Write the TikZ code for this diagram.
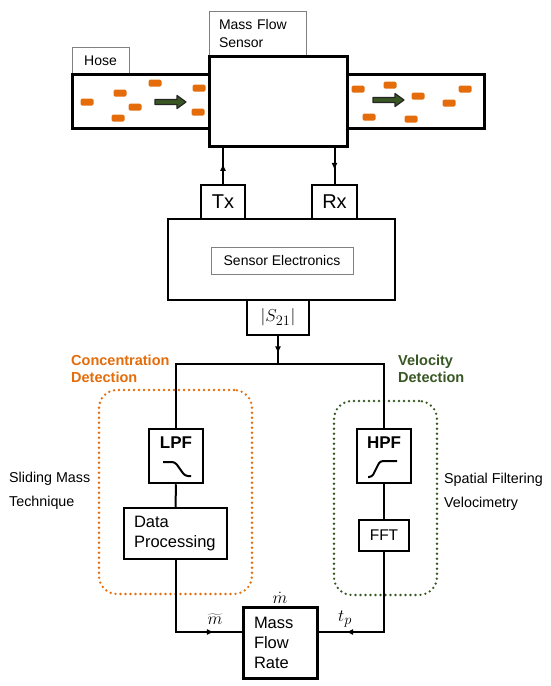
\documentclass[tikz,border=0pt]{standalone}
\usepackage{fontspec}
\setmainfont{Liberation Sans}
\usetikzlibrary{positioning,arrows.meta,decorations.markings}

\definecolor{flowor}{RGB}{228,108,10}
\definecolor{flowgr}{RGB}{56,87,35}
\definecolor{lblgray}{RGB}{128,128,128}

\begin{document}
\begin{tikzpicture}[x=1pt, y=-1pt,
    box/.style={rectangle, draw, line width=2.5pt, fill=white, inner sep=0pt},
    lbl/.style={rectangle, draw=lblgray, line width=1pt, fill=white, inner sep=0pt, font=\fontsize{14}{18}\selectfont},
    pipe/.style={rectangle, draw, line width=3pt, fill=white, minimum width=137pt, minimum height=54pt},
    filt/.style={box, minimum width=54pt, minimum height=54pt},
    filtname/.style={font=\bfseries\fontsize{17}{17}\selectfont, inner sep=0pt},
    glyph/.style={line width=2pt, rounded corners=3pt},
    group/.style={rectangle, rounded corners=18pt, line width=2.6pt, dash pattern=on 0pt off 5pt, line cap=round},
    grouptitle/.style={font=\bfseries\fontsize{14.5}{17}\selectfont, align=left, anchor=west, inner sep=0pt},
    side/.style={font=\fontsize{14.3}{24}\selectfont, align=left, anchor=west, inner sep=0pt},
    mathlbl/.style={font=\fontsize{19}{19}\selectfont, inner sep=1pt},
    particle/.style={fill=flowor, rounded corners=1.5pt},
    flowarrow/.style={fill=flowgr, draw=black!85, line width=1.2pt, line join=round},
    wire/.style={line width=2pt},
    midarrow/.style={decoration={markings, mark=at position #1 with {\arrow{Latex[length=7pt,width=6pt]}}}, postaction={decorate}},
    midarrow/.default=0.5
]
\useasboundingbox (0,0) rectangle (550,686);

% Hose with particles
\node[lbl, minimum width=57pt, minimum height=27pt] (hose) at (100.5,60.5) {Hose};
\node[pipe] (hoseL) at (140.5,101) {};
\node[pipe] (hoseR) at (415.5,101) {};

\foreach \px/\py in {87/102, 120/93, 155/83, 135/107, 118/118, 199/88, 198/112,
                     358/89, 390/85, 418/96, 465/89, 449/103, 369/117, 411/119}
    \fill[particle] (\px,\py) ++(-6.5,-3.5) rectangle ++(13,7);

\foreach \ax/\ay in {155/102, 373/100}
    \draw[flowarrow] (\ax,\ay) ++(0,-2.5) -- ++(22,0) -- ++(0,-4) -- ++(9,6.5)
        -- ++(-9,6.5) -- ++(0,-4) -- ++(-22,0) -- cycle;

% Sensor
\node[lbl, minimum width=97pt, minimum height=45pt, text width=77pt, align=left] (senslbl) at (257.5,33.5) {Mass Flow\\Sensor};
\node[box, line width=3pt, minimum width=138pt, minimum height=90pt] (sensor) at (278,101) {};

% Electronics
\node[box, minimum width=44pt, minimum height=34pt, font=\fontsize{20}{20}\selectfont] (tx) at (223,202) {Tx};
\node[box, minimum width=45pt, minimum height=34pt, font=\fontsize{20}{20}\selectfont] (rx) at (334.5,202) {Rx};
\node[box, minimum width=227pt, minimum height=81pt] (elec) at (281.5,259.5) {};
\node[lbl, minimum width=142pt, minimum height=27pt] (eleclbl) at (282,260.5) {Sensor Electronics};
\node[box, minimum width=62pt, minimum height=35pt, font=\fontsize{19}{19}\selectfont] (s21) at (278,317.5) {$|S_{21}|$};
\coordinate (split) at (278,364);

% Concentration detection (left)
\node[group, draw=flowor, minimum width=153pt, minimum height=204pt] (concgrp) at (175.5,492) {};
\node[grouptitle, text=flowor] (conctitle) at (71,368.5) {Concentration\\Detection};
\node[side] (slide) at (9,491) {Sliding Mass\\Technique};
\node[filt] (lpf) at (176,456) {};
\node[filtname] (lpfname) at ([yshift=13pt]lpf.center) {LPF};
\draw[glyph] ([shift={(-13,6)}]lpf.center) -- ++(12,0) -- ++(10,14) -- ++(6,0);
\node[box, minimum width=103pt, minimum height=51pt, text width=83pt, align=left, font=\fontsize{16.5}{19.5}\selectfont] (dp) at (175.5,533.5) {Data\\Processing};

% Velocity detection (right)
\node[group, draw=flowgr, minimum width=103pt, minimum height=194pt] (velgrp) at (385.5,498) {};
\node[grouptitle, text=flowgr] (veltitle) at (398,368.5) {Velocity\\Detection};
\node[side] (spatial) at (444,492) {Spatial Filtering\\Velocimetry};
\node[filt] (hpf) at (384,456) {};
\node[filtname] (hpfname) at ([yshift=13pt]hpf.center) {HPF};
\draw[glyph] ([shift={(-16,21)}]hpf.center) -- ++(4,0) -- ++(8,-16) -- ++(17,0);
\node[box, minimum width=50pt, minimum height=31pt, font=\fontsize{15.5}{15.5}\selectfont] (fft) at (384,535.5) {FFT};

% Result
\node[box, line width=3pt, minimum width=74pt, minimum height=71pt, text width=52pt, align=left, font=\fontsize{16.5}{20}\selectfont] (mfr) at (280,642.5) {Mass\\Flow\\Rate};
\node[mathlbl, above=1pt of mfr] (mdot) {$\dot{m}$};
\node[mathlbl] (mtil) at (215,619) {$\widetilde{m}$};
\node[mathlbl] (tp) at (345,619) {$t_p$};

% Connections
\draw[wire, midarrow=0.55] (tx.north) -- (tx.north |- sensor.south);
\draw[wire, midarrow=0.62] (rx.north |- sensor.south) -- (rx.north);
\draw[wire, midarrow=0.62] (s21.south) -- (split);
\draw[wire] (lpf.north) |- (split) -| (hpf.north);
\draw[wire] (lpf.south) -- (dp.north);
\draw[wire] (hpf.south) -- (fft.north);
\draw[wire, midarrow=0.8] (dp.south) |- ([yshift=10.5pt]mfr.west);
\draw[wire, midarrow=0.81] (fft.south) |- ([yshift=10.5pt]mfr.east);

\end{tikzpicture}
\end{document}
